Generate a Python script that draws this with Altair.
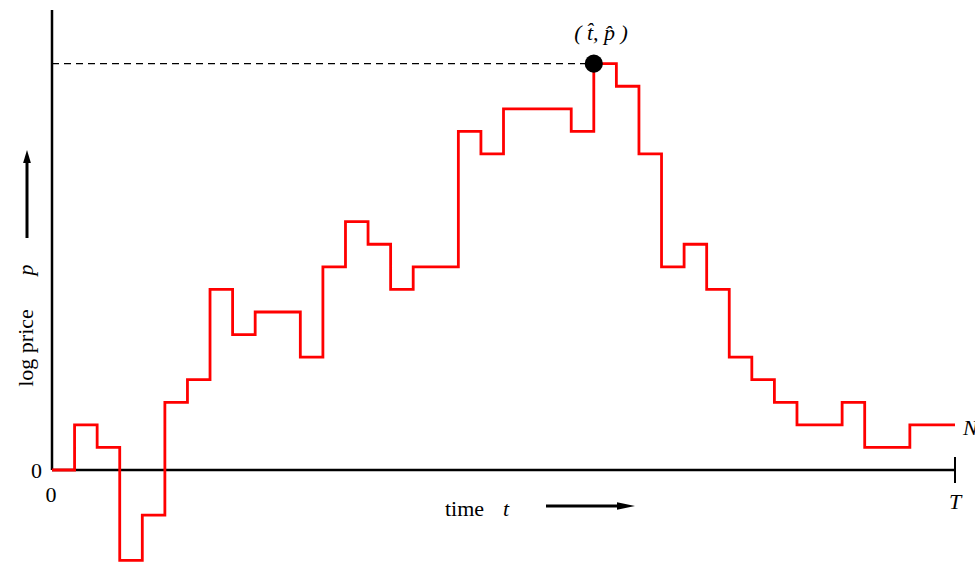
import altair as alt
import pandas as pd

# step index (time) and log-price values of the random walk
steps = list(range(41))
values = [0, 2, 1, -4, -2, 3, 4, 8, 6, 7, 7, 5, 9, 11, 10, 8, 9, 9, 15, 14,
          16, 16, 16, 15, 18, 17, 14, 9, 10, 8, 5, 4, 3, 2, 2, 3, 1, 1, 2, 2, 2]

df = pd.DataFrame({"t": steps, "p": values})
peak_i = int(df["p"].idxmax())
peak = pd.DataFrame({"t": [df["t"][peak_i]], "p": [df["p"][peak_i]], "t0": [0]})

U = 22.575
xs = alt.Scale(domain=[-52 / U, 923 / U], nice=False, zero=False)
ys = alt.Scale(domain=[-92 / U, 470 / U], nice=False, zero=False)

FONT = "Liberation Serif"
one = alt.Data(values=[{}])

def txt(s, x, y, italic=False, align="center", baseline="middle", angle=0, size=22):
    kw = dict(text=s, font=FONT, fontSize=size, align=align, baseline=baseline, color="black")
    if italic:
        kw["fontStyle"] = "italic"
    if angle:
        kw["angle"] = angle
    return alt.Chart(one).mark_text(**kw).encode(x=alt.value(x), y=alt.value(y))

def rule(x, x2, y, y2, w=2.5, dash=None):
    kw = dict(color="black", strokeWidth=w)
    if dash:
        kw["strokeDash"] = dash
    return alt.Chart(one).mark_rule(**kw).encode(
        x=alt.value(x), x2=alt.value(x2), y=alt.value(y), y2=alt.value(y2))

def head(path, x, y, size):
    return alt.Chart(one).mark_point(shape=path, filled=True, color="black",
                                     size=size, opacity=1, strokeWidth=0).encode(
        x=alt.value(x), y=alt.value(y))

# axes
yaxis = rule(52, 52, 10, 470)
xaxis = rule(52, 955, 470, 470)
tick = rule(955, 955, 457, 483, w=2)

dashed = alt.Chart(peak).mark_rule(color="black", strokeWidth=1.2, strokeDash=[7, 5]).encode(
    x=alt.X("t0:Q", scale=xs, axis=None), x2="t:Q",
    y=alt.Y("p:Q", scale=ys, axis=None))

line = alt.Chart(df).mark_line(interpolate="step-after", color="#ff0000", strokeWidth=2.8).encode(
    x=alt.X("t:Q", scale=xs, axis=None),
    y=alt.Y("p:Q", scale=ys, axis=None))

dot = alt.Chart(peak).mark_point(filled=True, color="black", size=330, opacity=1).encode(
    x=alt.X("t:Q", scale=xs, axis=None),
    y=alt.Y("p:Q", scale=ys, axis=None))

# arrows
xarrow = rule(546, 620, 506, 506, w=3)
xhead = head("M1,0L-1,-0.42L-1,0.42Z", 626, 506, 324)
yarrow = rule(27, 27, 160, 238, w=3)
yhead = head("M0,-1L-0.6,1L0.6,1Z", 27, 156.5, 169)

labels = [
    txt("0", 36.5, 471),
    txt("0", 51, 495),
    txt("T", 955, 502, italic=True),
    txt("N", 963, 428, italic=True, align="left"),
    txt("time", 445, 516, align="left", baseline="alphabetic"),
    txt("t", 503, 516, italic=True, align="left", baseline="alphabetic"),
    txt("log price", 33, 348, angle=270, baseline="alphabetic"),
    txt("p", 33, 270, italic=True, angle=270, baseline="alphabetic"),
    txt("( t\u0302, p\u0302 )", 601, 40, italic=True, baseline="alphabetic"),
]

chart = alt.layer(
    yaxis, xaxis, tick, dashed, line, dot, xarrow, xhead, yarrow, yhead, *labels
).properties(
    width=975, height=562, padding=0,
    autosize=alt.AutoSizeParams(type="none"),
    background="white",
).configure_view(strokeWidth=0)

chart.save("out.html", embed_options={"renderer": "svg", "actions": False})
